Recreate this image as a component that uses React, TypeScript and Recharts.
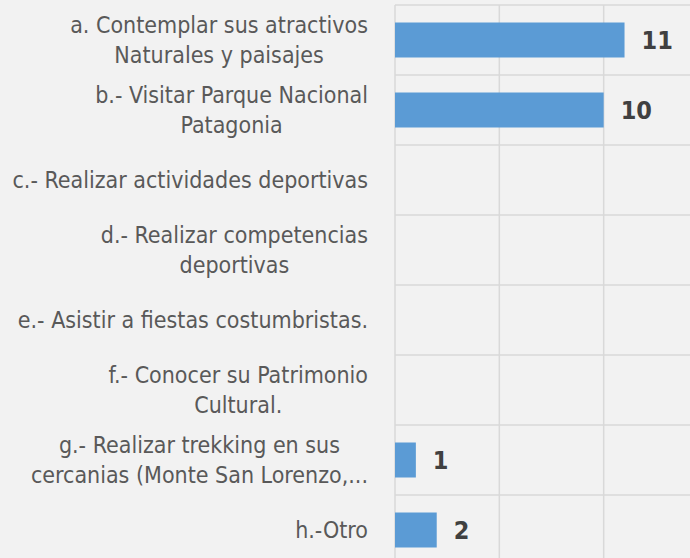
import { BarChart, Bar, XAxis, YAxis, CartesianGrid, LabelList } from 'recharts'

const CATEGORIES = [
  'a. Contemplar sus atractivos\nNaturales y paisajes',
  'b.- Visitar Parque Nacional\nPatagonia',
  'c.- Realizar actividades deportivas',
  'd.- Realizar competencias\ndeportivas',
  'e.- Asistir a fiestas costumbristas.',
  'f.- Conocer su Patrimonio\nCultural.',
  'g.- Realizar trekking en sus\ncercanias (Monte San Lorenzo,...',
  'h.-Otro',
]
const VALUES = [11, 10, 0, 0, 0, 0, 1, 2]
const X_TICKS = [0, 5, 10, 15]

const FONT = '"DejaVu Sans Condensed", "Liberation Sans Narrow", Arial, sans-serif'

const data = CATEGORIES.map((name, i) => ({ name, value: VALUES[i] }))

function CategoryTick(props: any) {
  const { x, y, payload } = props
  const lines: string[] = String(payload.value).split('\n')
  const w = 380
  return (
    <foreignObject x={x - 19 - w} y={y - 35} width={w + 30} height={70}>
      <div
        style={{
          width: w,
          height: 70,
          display: 'flex',
          justifyContent: 'flex-end',
          alignItems: 'center',
        }}
      >
        <div
          style={{
            textAlign: 'center',
            fontFamily: FONT,
            fontSize: 23,
            lineHeight: '30px',
            color: '#595959',
            whiteSpace: 'nowrap',
          }}
        >
          {lines.map((l, i) => (
            <div key={i}>{l}</div>
          ))}
        </div>
      </div>
    </foreignObject>
  )
}

function ValueLabel(props: any) {
  const { x, y, width, height, value } = props
  if (!value) return null
  return (
    <text
      x={x + width + 17}
      y={y + height / 2}
      dy="0.36em"
      fontFamily={FONT}
      fontSize={25}
      fontWeight="bold"
      fill="#404040"
    >
      {value}
    </text>
  )
}

export default function App() {
  return (
    <div
      style={{
        position: 'absolute',
        left: 0,
        top: 0,
        width: 690,
        height: 558,
        overflow: 'hidden',
        background: '#f2f2f2',
      }}
    >
      <BarChart
        width={720}
        height={580}
        data={data}
        layout="vertical"
        margin={{ top: 5, right: 12, left: 0, bottom: 15 }}
        barCategoryGap="25%"
      >
        <CartesianGrid
          stroke="#d9d9d9"
          strokeWidth={1.5}
          horizontalCoordinatesGenerator={({ offset }: any) =>
            CATEGORIES.concat('').map((_, i) => offset.top + (i * offset.height) / CATEGORIES.length)
          }
        />
        <XAxis type="number" domain={[0, 15]} ticks={X_TICKS} hide />
        <YAxis
          type="category"
          dataKey="name"
          width={395}
          axisLine={false}
          tickLine={false}
          tick={<CategoryTick />}
          interval={0}
        />
        <Bar dataKey="value" fill="#5b9bd5" isAnimationActive={false}>
          <LabelList dataKey="value" content={<ValueLabel />} />
        </Bar>
      </BarChart>
    </div>
  )
}
